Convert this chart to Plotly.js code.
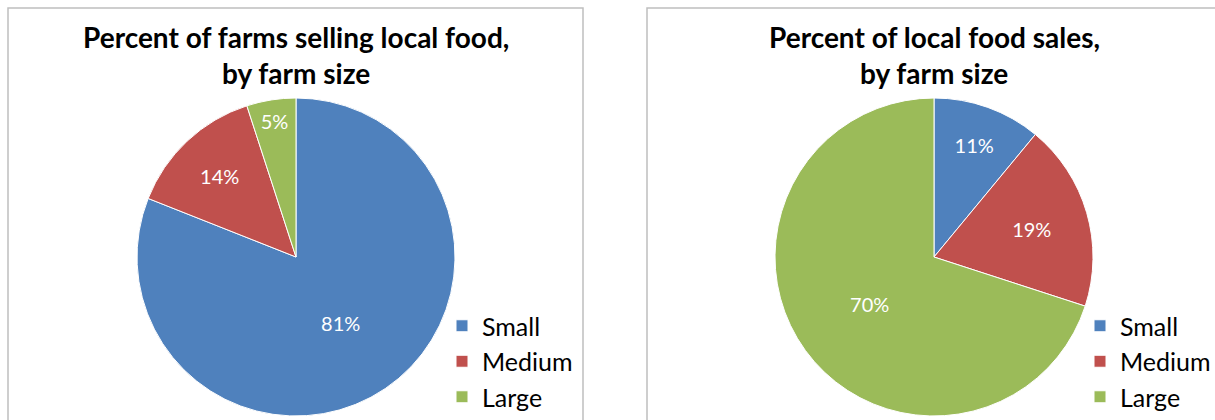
<!DOCTYPE html>
<html><head><meta charset="utf-8">
<script src="https://cdn.plot.ly/plotly-3.0.1.min.js"></script>
<style>html,body{margin:0;padding:0;background:#fff;overflow:hidden;width:1215px;height:420px}
.c{position:absolute;top:0;height:420px}</style>
</head><body>
<div id="left" class="c" style="left:0;width:615px"></div>
<div id="right" class="c" style="left:615px;width:750px"></div>
<script>
const categories = ["Small", "Medium", "Large"];
const farmsPct = [81, 14, 5];
const salesPct = [11, 19, 70];
const colors = ["#4F81BD", "#C0504D", "#9BBB59"];
const titleLeft = ["Percent of farms selling local food,", "by farm size"];
const titleRight = ["Percent of local food sales,", "by farm size"];

const H = 420;
const FONT = "Lato, 'Open Sans', sans-serif";

function drawPanel(divId, W, vals, titleLines, cx, boxX0, boxX1, legX) {
  const px = v => v / W, py = v => 1 - v / H;
  const r = 159;
  const trace = {
    type: "pie", values: vals, labels: categories, sort: false,
    direction: "clockwise", rotation: 0,
    marker: {colors: colors, line: {color: "#ffffff", width: 1}},
    texttemplate: "%{value}%", textposition: "inside",
    insidetextorientation: "horizontal",
    textfont: {color: "#ffffff", size: 20, family: FONT},
    domain: {x: [px(cx - r), px(cx + r)], y: [py(257 + r), py(257 - r)]},
    hoverinfo: "label+percent"
  };
  const annotations = titleLines.map((t, i) => ({
    text: "<b>" + t + "</b>", x: px(cx), y: py(37 + i * 36), xref: "paper", yref: "paper",
    xanchor: "center", yanchor: "middle", showarrow: false,
    font: {family: FONT, size: 28, color: "#000"}
  }));
  const layout = {
    width: W, height: H, margin: {l: 0, r: 0, t: 0, b: 0},
    paper_bgcolor: "rgba(0,0,0,0)", showlegend: true,
    legend: {
      x: px(legX), y: py(303), xanchor: "left", yanchor: "top",
      font: {family: FONT, size: 25, color: "#000"}, bgcolor: "rgba(0,0,0,0)",
      itemwidth: 30
    },
    shapes: [
      {type: "rect", xref: "paper", yref: "paper", x0: px(boxX0), x1: px(boxX1), y0: -0.2, y1: py(8),
       line: {color: "#BFBFBF", width: 1.5}}
    ],
    annotations: annotations
  };
  Plotly.newPlot(divId, [trace], layout, {displayModeBar: false, staticPlot: true});
}

drawPanel("left", 615, farmsPct, titleLeft, 296, 8, 583, 442);
drawPanel("right", 750, salesPct, titleRight, 934 - 615, 647 - 615, 760, 1080 - 615);
</script>
</body></html>
